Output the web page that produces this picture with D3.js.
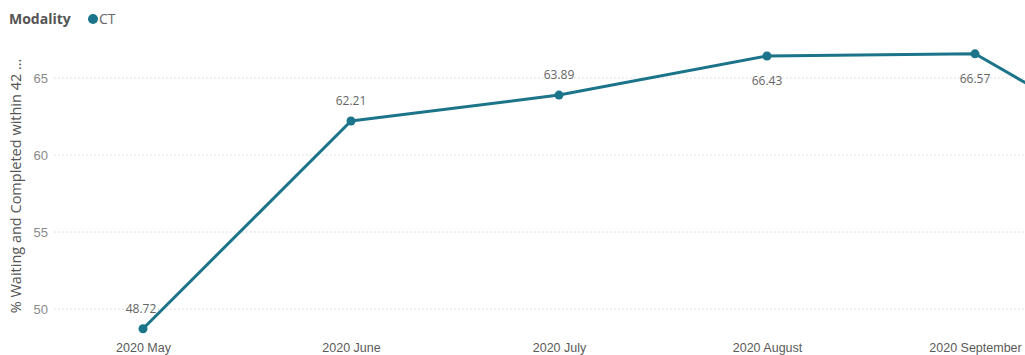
<!DOCTYPE html>
<html>
<head>
<meta charset="utf-8">
<script src="https://cdn.jsdelivr.net/npm/d3@7"></script>
<style>
  html, body { margin: 0; padding: 0; background: #fff; overflow: hidden; }
  svg { display: block; font-family: "Segoe UI", "Open Sans", "Noto Sans", sans-serif; }
</style>
</head>
<body>
<svg id="chart" width="1025" height="355"></svg>
<script>
// Monthly share of CT patients waiting/completed within 42 days
const months = ["2020 May", "2020 June", "2020 July", "2020 August", "2020 September", "2020 October"];
const ctValues = [48.72, 62.21, 63.89, 66.43, 66.57, 58.8];
const yTicks = [50, 55, 60, 65];
const legendTitle = "Modality";
const seriesName = "CT";
const yTitle = "% Waiting and Completed within 42 …";

const W = 1025;
const lineColor = "#1b7489";
const svg = d3.select("#chart");

const x = d3.scalePoint().domain(months).range([143, 1183]);
const y = d3.scaleLinear().domain([50, 65]).range([309, 78]);

// gridlines
const grid = svg.append("g");
grid.selectAll("line").data(yTicks).join("line")
  .attr("x1", 54).attr("x2", W)
  .attr("y1", d => y(d)).attr("y2", d => y(d))
  .attr("stroke", "#d4d4d4").attr("stroke-width", 1)
  .attr("stroke-dasharray", "1.5,2.5");

// y axis
const yAxis = svg.append("g").attr("transform", "translate(48,0)")
  .call(d3.axisLeft(y).tickValues(yTicks).tickSize(0).tickPadding(0));
yAxis.select(".domain").remove();
yAxis.selectAll("text").attr("fill", "#8a8a8a").style("font-size", "13px");

// x axis (labels beyond the right edge are not drawn)
const xAxis = svg.append("g").attr("transform", "translate(0,343)")
  .call(d3.axisBottom(x).tickSize(0).tickPadding(0));
xAxis.select(".domain").remove();
xAxis.selectAll(".tick").filter(d => x(d) > W).remove();
xAxis.selectAll("text").attr("fill", "#5a5a5a").style("font-size", "12.5px");

// y title
svg.append("text")
  .attr("transform", "translate(21,186) rotate(-90)")
  .attr("text-anchor", "middle")
  .attr("fill", "#555")
  .style("font-size", "14.5px")
  .text(yTitle);

// legend
svg.append("text").attr("x", 9).attr("y", 24)
  .attr("fill", "#555").style("font-size", "14px").style("font-weight", "bold")
  .text(legendTitle);
svg.append("circle").attr("cx", 93).attr("cy", 19).attr("r", 5).attr("fill", lineColor);
svg.append("text").attr("x", 99).attr("y", 24)
  .attr("fill", "#666").style("font-size", "14px")
  .text(seriesName);

// line
const data = months.map((m, i) => ({ m, v: ctValues[i] }));
svg.append("path").datum(data)
  .attr("fill", "none").attr("stroke", lineColor).attr("stroke-width", 3)
  .attr("stroke-linejoin", "round")
  .attr("d", d3.line().x(d => x(d.m)).y(d => y(d.v)));

svg.selectAll("circle.pt").data(data).join("circle")
  .attr("class", "pt")
  .attr("cx", d => x(d.m)).attr("cy", d => y(d.v)).attr("r", 4.5)
  .attr("fill", lineColor);

// data labels: above the point, below when near the top of the plot
svg.selectAll("text.lbl").data(data.filter(d => x(d.m) < W)).join("text")
  .attr("class", "lbl")
  .attr("x", (d, i) => x(d.m) + (i === 0 ? -2 : 0))
  .attr("y", d => d.v > 65 ? y(d.v) + 29 : y(d.v) - 16)
  .attr("text-anchor", "middle")
  .attr("fill", "#666").style("font-size", "12px")
  .text(d => d.v.toFixed(2));
</script>
</body>
</html>
